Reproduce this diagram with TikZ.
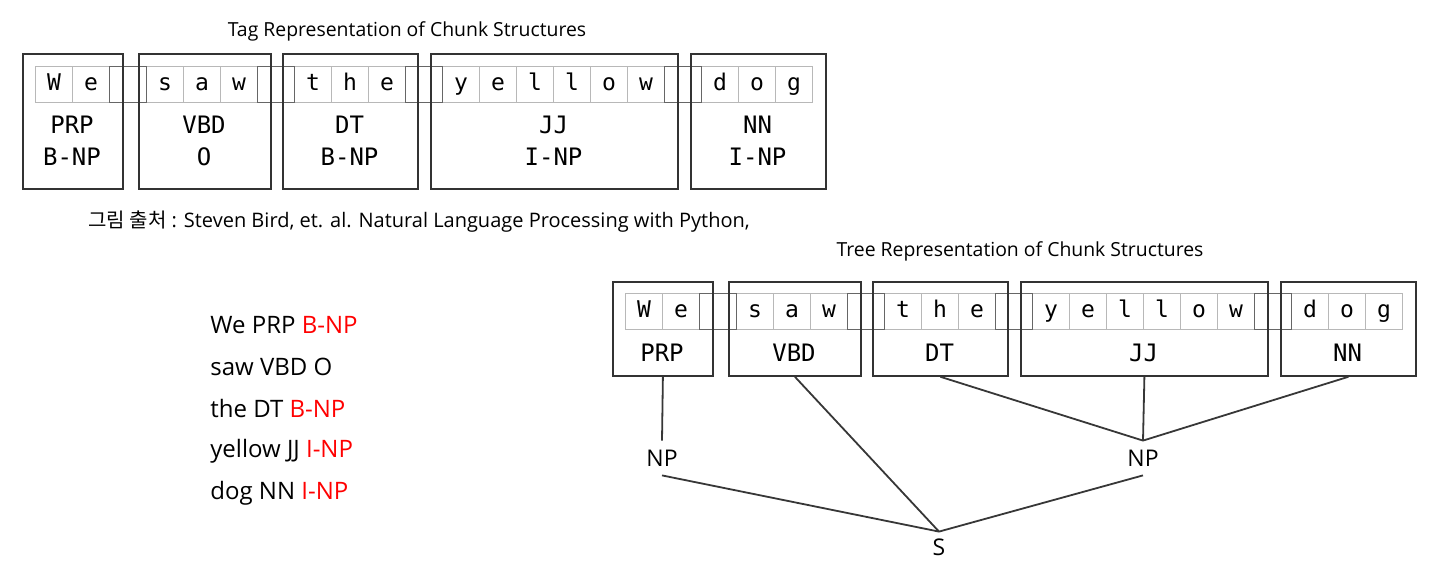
\documentclass[tikz,border=0pt]{standalone}
\usepackage{fontspec}
\setmainfont{Open Sans}
\newfontfamily\monof{DejaVu Sans Mono}
\newfontfamily\krf{Noto Sans CJK KR}
\definecolor{lbred}{RGB}{255,0,0}
\definecolor{edgegray}{RGB}{55,55,55}
\begin{document}
\begin{tikzpicture}[x=0.5pt,y=-0.5pt,
  tagbox/.style={draw=black!80, line width=0.9pt, inner sep=0pt, anchor=north west},
  cell/.style={draw=black!28, line width=0.45pt, minimum width=18.5pt, minimum height=18pt,
    inner sep=0pt, anchor=north west, text height=8pt, text depth=2.4pt,
    font=\monof\fontsize{11.5}{13}\selectfont},
  spacecell/.style={cell, draw=black!60},
  taglbl/.style={font=\monof\fontsize{12}{14}\selectfont, inner sep=0pt},
  titlelbl/.style={font=\fontsize{9.7}{12}\selectfont, inner sep=0pt},
  caplbl/.style={font=\fontsize{10}{12}\selectfont, inner sep=0pt, anchor=west},
  listlbl/.style={font=\fontsize{12}{14}\selectfont, inner sep=0pt, anchor=west},
  treelbl/.style={font=\fontsize{11.5}{13}\selectfont, inner sep=0pt},
  treeedge/.style={draw=edgegray, line width=0.9pt}
]
\useasboundingbox (0,0) rectangle (1451,565);

% ---------- titles and caption
\node[titlelbl] (title1) at (407,31) {Tag Representation of Chunk Structures};
\node[caplbl] (caption) at (88,222) {{\krf 그림 출처} : Steven Bird, et. al. Natural Language Processing with Python,};
\node[titlelbl] (title2) at (1020,251) {Tree Representation of Chunk Structures};

% ---------- top: tag representation
\begin{scope}[name prefix=t-]
  \foreach \i/\ch in {0/W,1/e,3/s,4/a,5/w,7/t,8/h,9/e,11/y,12/e,13/l,14/l,15/o,16/w,18/d,19/o,20/g}
    \node[cell] (c\i) at ({35+37*\i},66) {\ch};
  \foreach \i in {2,6,10,17}
    \node[spacecell] (c\i) at ({35+37*\i},66) {};
  \foreach \tg/\bx/\bw/\ch in {PRP/22/100/B-NP, VBD/138/132/O, DT/282/135/B-NP, JJ/430/247/I-NP, NN/690/135/I-NP}{
    \node[tagbox, minimum width=\bw*0.5pt, minimum height=67.5pt] (\tg) at (\bx,53) {};
    \node[taglbl] (\tg-tag) at ({\bx+\bw/2},125) {\tg};
    \node[taglbl] (\tg-iob) at ({\bx+\bw/2},157) {\ch};
  }
\end{scope}

% ---------- left: list
\node[listlbl] (l1) at (210,325) {We PRP \textcolor{lbred}{B-NP}};
\node[listlbl] (l2) at (210,367) {saw VBD O};
\node[listlbl] (l3) at (210,409) {the DT \textcolor{lbred}{B-NP}};
\node[listlbl] (l4) at (210,451) {yellow JJ \textcolor{lbred}{I-NP}};
\node[listlbl] (l5) at (210,493) {dog NN \textcolor{lbred}{I-NP}};

% ---------- bottom right: tree representation
\begin{scope}[shift={(590,227)}, name prefix=b-]
  \foreach \i/\ch in {0/W,1/e,3/s,4/a,5/w,7/t,8/h,9/e,11/y,12/e,13/l,14/l,15/o,16/w,18/d,19/o,20/g}
    \node[cell] (c\i) at ({35+37*\i},66) {\ch};
  \foreach \i in {2,6,10,17}
    \node[spacecell] (c\i) at ({35+37*\i},66) {};
  \foreach \tg/\bx/\bw in {PRP/22/100, VBD/138/132, DT/282/135, JJ/430/247, NN/690/135}{
    \node[tagbox, minimum width=\bw*0.5pt, minimum height=47pt] (\tg) at (\bx,54) {};
    \node[taglbl] (\tg-tag) at ({\bx+\bw/2},126) {\tg};
  }
\end{scope}

\node[treelbl, minimum height=17pt] (np1) at (662,458) {NP};
\node[treelbl, minimum height=17pt] (np2) at (1143,458) {NP};
\node[treelbl, minimum height=15pt] (s) at (939,547) {S};

\draw[treeedge] (b-PRP.south) -- (np1.north);
\draw[treeedge] (b-VBD.south) -- (s.north);
\draw[treeedge] (b-DT.south) -- (np2.north);
\draw[treeedge] (b-JJ.south) -- (np2.north);
\draw[treeedge] (b-NN.south) -- (np2.north);
\draw[treeedge] (np1.south) -- (s.north);
\draw[treeedge] (np2.south) -- (s.north);
\end{tikzpicture}
\end{document}
